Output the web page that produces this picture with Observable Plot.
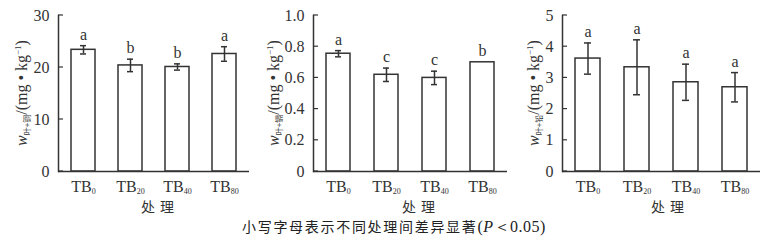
<!DOCTYPE html>
<html><head><meta charset="utf-8">
<script src="https://cdn.jsdelivr.net/npm/d3@7"></script>
<script src="https://cdn.jsdelivr.net/npm/@observablehq/plot@0.6"></script>
<style>
body{margin:0;background:#fff;width:772px;height:243px;position:relative;overflow:hidden;font-family:"Liberation Serif","Times New Roman",Times,"DejaVu Serif",serif;}
.panel{position:absolute;top:0}
.panel svg, .panel svg text{font-family:"Liberation Serif","Times New Roman",Times,"DejaVu Serif",serif !important}
.panel svg text.cjk{font-family:"Noto Sans CJK SC",sans-serif !important}
.panel svg tspan.cjk{font-family:"Noto Sans CJK SC",sans-serif !important}
#caption{position:absolute;top:218px;left:242px;white-space:nowrap;font-family:"Noto Sans CJK SC",sans-serif;font-size:14px;letter-spacing:1.7px;color:#222;line-height:16px}
#caption .n{font-family:"Liberation Serif","Times New Roman",Times,"DejaVu Serif",serif;font-size:16px;letter-spacing:0.5px}
</style></head><body>
<div id="p1" class="panel" style="left:0"></div>
<div id="p2" class="panel" style="left:255px"></div>
<div id="p3" class="panel" style="left:510px"></div>
<div id="caption">小写字母表示不同处理间差异显著<span class="n">(<i>P</i>＜0.05)</span></div>
<script>
const treatments = ["TB0", "TB20", "TB40", "TB80"];
const subs = ["0", "20", "40", "80"];

const v1 = [23.4, 20.4, 20.1, 22.6];
const e1 = [0.8, 1.2, 0.6, 1.4];
const s1 = ["a", "b", "b", "a"];
const ticks1 = [0, 10, 20, 30];

const v2 = [0.755, 0.62, 0.60, 0.70];
const e2 = [0.02, 0.043, 0.043, 0];
const s2 = ["a", "c", "c", "b"];
const ticks2 = [0, 0.2, 0.4, 0.6, 0.8, 1.0];

const v3 = [3.62, 3.34, 2.86, 2.70];
const e3 = [0.5, 0.88, 0.58, 0.47];
const s3 = ["a", "a", "a", "a"];
const ticks3 = [0, 1, 2, 3, 4, 5];

const ylabelSubs = ["叶+铜", "叶+镉", "叶+铅"];

const ink = "#333";

function panel(sel, o) {
  const data = treatments.map((t, i) => ({t, v: o.values[i], e: o.se[i], s: o.sig[i]}));
  const withErr = data.filter(d => d.e > 0);
  const plot = Plot.plot({
    width: o.width, height: 215,
    marginLeft: o.ml, marginRight: o.mr, marginTop: 15, marginBottom: 44,
    style: {fontSize: "16px", color: ink, background: "#fff", overflow: "visible"},
    x: {domain: treatments, paddingInner: 0.5, paddingOuter: o.po, label: null},
    y: {domain: [o.ticks[0], o.ticks[o.ticks.length - 1]], label: null},
    marks: [
      Plot.axisY({ticks: o.ticks, tickSize: 0, tickPadding: 9, tickFormat: o.fmt, label: null, fontSize: 16}),
      Plot.axisX({tickSize: 0, tickPadding: 9, label: null, fontSize: 16}),
      Plot.barY(data, {x: "t", y: "v", fill: "white", stroke: ink, strokeWidth: 1.5}),
      Plot.ruleX(withErr, {x: "t", y1: d => d.v - d.e, y2: d => d.v + d.e, stroke: ink, strokeWidth: 1.5}),
      Plot.tickY(withErr, {x: "t", y: d => d.v + d.e, inset: 9, stroke: ink, strokeWidth: 1.5}),
      Plot.tickY(withErr, {x: "t", y: d => d.v - d.e, inset: 9, stroke: ink, strokeWidth: 1.5}),
      Plot.text(data, {x: "t", y: d => d.v + d.e, text: "s", dy: -11, fontSize: 16, fill: ink}),
      Plot.ruleY([0], {stroke: ink, strokeWidth: 1.5}),
      Plot.frame({anchor: "left", stroke: ink, strokeWidth: 1.5})
    ]
  });
  const svg = d3.select(plot);
  const ys = plot.scale("y");
  const xl = o.ml;
  // inward ticks on y-axis
  const tg = svg.append("g").attr("stroke", ink).attr("stroke-width", 1.2);
  o.ticks.forEach(t => {
    const y = ys.apply(t);
    tg.append("line").attr("x1", xl).attr("x2", xl + 5).attr("y1", y).attr("y2", y);
  });
  // subscripts on x tick labels
  svg.selectAll("g[aria-label='x-axis tick label'] text").each(function() {
    const t = d3.select(this);
    const idx = treatments.indexOf(t.text());
    t.text("TB");
    t.append("tspan").attr("font-size", "8px").attr("dy", "2").text(subs[idx]);
  });
  // x axis title
  svg.append("text").attr("class", "cjk").attr("x", o.tx).attr("y", 211.5)
    .attr("text-anchor", "middle")
    .attr("font-size", "14px").attr("letter-spacing", "5px").attr("fill", ink).text("处理");
  // y axis title
  const lab = svg.append("text").attr("transform", `translate(${o.lx},93) rotate(-90)`)
    .attr("text-anchor", "middle").attr("font-size", "16px").attr("fill", ink);
  lab.append("tspan").attr("font-style", "italic").text("w");
  lab.append("tspan").attr("class", "cjk").attr("font-size", "8px").attr("dy", 3).text(o.sub);
  lab.append("tspan").attr("dy", -3).text("/(mg • kg");
  lab.append("tspan").attr("font-size", "9px").attr("dy", -6).text("−1");
  lab.append("tspan").attr("dy", 6).text(")");
  document.querySelector(sel).append(plot);
}

panel("#p1", {width: 257, ml: 58, mr: 8, po: 0.24, values: v1, se: e1, sig: s1, ticks: ticks1, fmt: d => String(d), sub: ylabelSubs[0], lx: 27, tx: 160});
panel("#p2", {width: 257, ml: 58, mr: 5, po: 0.24, values: v2, se: e2, sig: s2, ticks: ticks2, fmt: d => d === 0 ? "0" : d.toFixed(1), sub: ylabelSubs[1], lx: 24, tx: 166});
panel("#p3", {width: 262, ml: 52, mr: 12, po: 0.265, values: v3, se: e3, sig: s3, ticks: ticks3, fmt: d => String(d), sub: ylabelSubs[2], lx: 29, tx: 160});
</script>
</body></html>
